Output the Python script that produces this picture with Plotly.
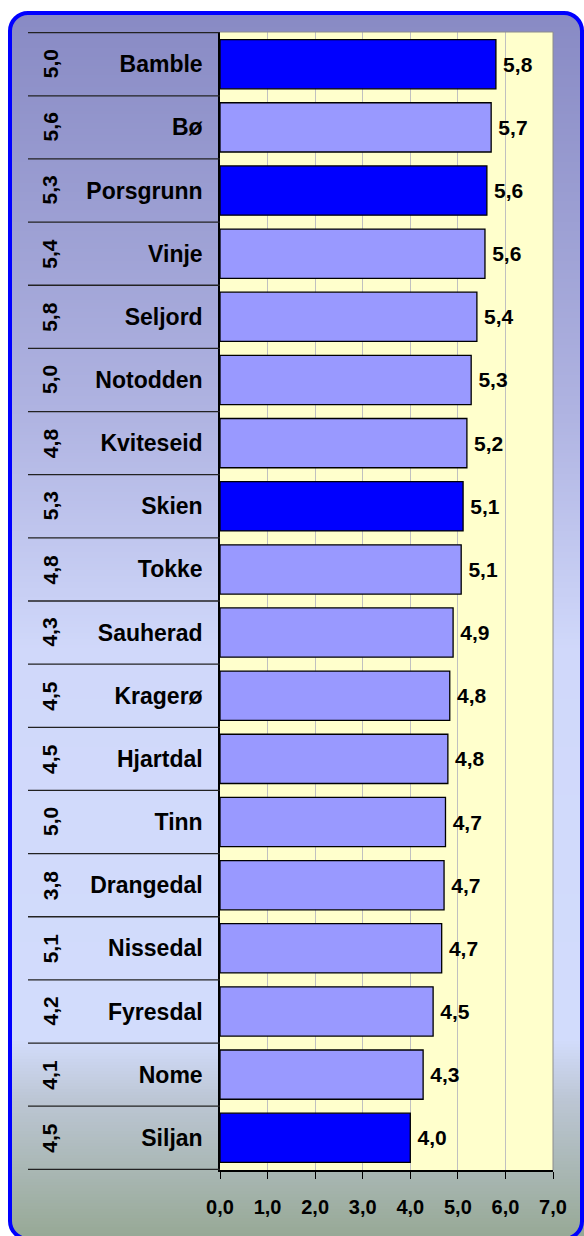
import plotly.graph_objects as go

# ---------------- data ----------------
categories = ["Bamble", "Bø", "Porsgrunn", "Vinje", "Seljord", "Notodden", "Kviteseid",
              "Skien", "Tokke", "Sauherad", "Kragerø", "Hjartdal", "Tinn", "Drangedal",
              "Nissedal", "Fyresdal", "Nome", "Siljan"]
values = [5.80, 5.70, 5.61, 5.57, 5.40, 5.28, 5.19, 5.11, 5.07, 4.90, 4.83, 4.79,
          4.74, 4.71, 4.66, 4.48, 4.27, 4.00]
left_values = [5.0, 5.6, 5.3, 5.4, 5.8, 5.0, 4.8, 5.3, 4.8, 4.3, 4.5, 4.5, 5.0, 3.8,
               5.1, 4.2, 4.1, 4.5]
highlighted = ["Bamble", "Porsgrunn", "Skien", "Siljan"]
x_ticks = [0, 1, 2, 3, 4, 5, 6, 7]

# ---------------- geometry / style ----------------
W, H = 584, 1236
L, R, T, B = 220, 31, 32, 66
PW, PH = W - L - R, H - T - B
FONT = "Liberation Sans, Arial, sans-serif"


def px(x):
    return (x - L) / PW


def py(y):
    return (H - B - y) / PH


def P(x, y):
    return f"{px(x):.5f},{py(y):.5f}"


def lerp(c1, c2, t):
    return tuple(round(a + (b - a) * t) for a, b in zip(c1, c2))


grad_stops = [(13, (136, 138, 196)), (420, (176, 180, 226)), (650, (208, 216, 250)),
              (1040, (210, 220, 252)), (1100, (188, 198, 212)), (1240, (150, 168, 148))]


def grad_color(y):
    for (y1, c1), (y2, c2) in zip(grad_stops[:-1], grad_stops[1:]):
        if y1 <= y <= y2:
            return lerp(c1, c2, (y - y1) / (y2 - y1))
    return grad_stops[-1][1]


shapes = []
step = 3
y = 12
while y < 1240:
    c = grad_color(y + step / 2)
    shapes.append(dict(type="rect", xref="paper", yref="paper", layer="below",
                       x0=px(9), x1=px(584), y0=py(y), y1=py(y + step + 0.5),
                       line=dict(width=0), fillcolor=f"rgb{c}"))
    y += step

# plot area background
shapes.append(dict(type="rect", xref="paper", yref="paper", layer="below",
                   x0=0, x1=1, y0=0, y1=1, line=dict(width=0), fillcolor="#ffffcc"))

# rounded frame with white corner masks
x0, y0, x1, y1, r = 10, 13, 582, 1239, 18
k = 0.45
masks = [
    f"M{P(x0, y0 + r)} C{P(x0, y0 + r * k)} {P(x0 + r * k, y0)} {P(x0 + r, y0)} L{P(x0 + r, y0 - 8)} L{P(x0 - 8, y0 - 8)} Z",
    f"M{P(x1 - r, y0)} C{P(x1 - r * k, y0)} {P(x1, y0 + r * k)} {P(x1, y0 + r)} L{P(x1 + 8, y0 + r)} L{P(x1 + 8, y0 - 8)} Z",
    f"M{P(x0, y1 - r)} C{P(x0, y1 - r * k)} {P(x0 + r * k, y1)} {P(x0 + r, y1)} L{P(x0 + r, y1 + 8)} L{P(x0 - 8, y1 + 8)} Z",
]
for m in masks:
    shapes.append(dict(type="path", xref="paper", yref="paper", path=m,
                       fillcolor="white", line=dict(width=0)))
frame = (f"M{P(x0 + r, y0)} L{P(x1 - r, y0)} C{P(x1 - r * k, y0)} {P(x1, y0 + r * k)} {P(x1, y0 + r)} "
         f"L{P(x1, y1 - r)} C{P(x1, y1 - r * k)} {P(x1 - r * k, y1)} {P(x1 - r, y1)} "
         f"L{P(x0 + r, y1)} C{P(x0 + r * k, y1)} {P(x0, y1 - r * k)} {P(x0, y1 - r)} "
         f"L{P(x0, y0 + r)} C{P(x0, y0 + r * k)} {P(x0 + r * k, y0)} {P(x0 + r, y0)} Z")
shapes.append(dict(type="path", xref="paper", yref="paper", path=frame,
                   line=dict(color="#0000ff", width=4)))

# row separators in label area
for i in range(len(categories) + 1):
    shapes.append(dict(type="line", xref="paper", yref="y", x0=px(28), x1=0,
                       y0=i - 0.5, y1=i - 0.5, line=dict(color="#222222", width=1.3)))

# plot area top/right border
shapes.append(dict(type="line", xref="paper", yref="paper", x0=0, x1=1, y0=1, y1=1,
                   line=dict(color="#8c8c8c", width=1)))
shapes.append(dict(type="line", xref="paper", yref="paper", x0=1, x1=1, y0=0, y1=1,
                   line=dict(color="#8c8c8c", width=1)))

colors = ["#0000ff" if c in highlighted else "#9999ff" for c in categories]

fig = go.Figure(go.Bar(
    x=values, y=categories, orientation="h",
    marker=dict(color=colors, line=dict(color="#000000", width=1.3)),
    texttemplate="\u2009%{x:.1f}", textposition="outside", cliponaxis=False,
    constraintext="none",
    textfont=dict(family=FONT, size=21, color="#000000", weight="bold"),
    hoverinfo="skip",
))

annotations = []
for c, v in zip(categories, left_values):
    annotations.append(dict(
        xref="paper", yref="y", x=px(50), y=c, text=f"{v:.1f}".replace(".", ","),
        textangle=-90, showarrow=False, xanchor="center", yanchor="middle",
        font=dict(family=FONT, size=21, color="#000000", weight="bold")))

fig.update_layout(
    width=W, height=H, autosize=False,
    margin=dict(l=L, r=R, t=T, b=B, pad=0),
    paper_bgcolor="white", plot_bgcolor="rgba(0,0,0,0)",
    separators=",.",
    bargap=0.22,
    showlegend=False,
    shapes=shapes,
    annotations=annotations,
    font=dict(family=FONT, color="#000000"),
)
fig.update_xaxes(
    range=[0, 7], tickvals=x_ticks, tickformat=".1f",
    showgrid=True, gridcolor="#c0c0c0", gridwidth=1,
    showline=True, linecolor="#000000", linewidth=1.5,
    ticks="outside", ticklen=7, tickcolor="#000000", tickwidth=1,
    ticklabelstandoff=11,
    tickfont=dict(family=FONT, size=20, color="#000000", weight="bold"),
    zeroline=False, fixedrange=True,
)
fig.update_yaxes(
    autorange="reversed", showgrid=False,
    showline=True, linecolor="#000000", linewidth=1.5,
    ticks="", ticklabelstandoff=11,
    tickfont=dict(family=FONT, size=23, color="#000000", weight="bold"),
    fixedrange=True,
)

fig.write_html("out.html", config={"displayModeBar": False},
               post_script="document.body.style.margin='0';document.body.style.overflow='hidden';")
